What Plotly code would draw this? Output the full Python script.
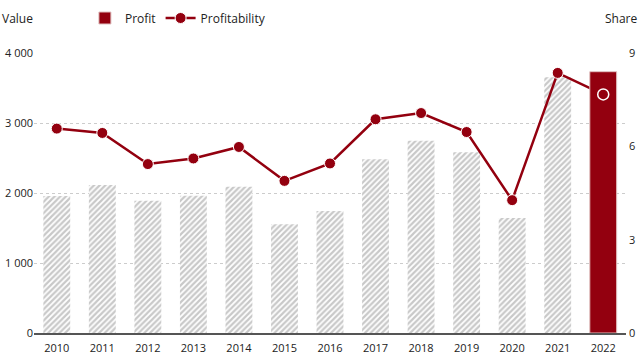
import plotly.graph_objects as go

years = [str(y) for y in range(2010, 2023)]
values_hist = [1957, 2114, 1890, 1961, 2090, 1553, 1743, 2481, 2747, 2581, 1643, 3653]
profit_2022 = [3733]
share = [6.57, 6.43, 5.43, 5.61, 5.98, 4.89, 5.45, 6.87, 7.07, 6.46, 4.27, 8.36, 7.67]

RED = "#93000f"
FONT = "Open Sans"

fig = go.Figure()

fig.add_trace(go.Bar(
    x=years[:-1], y=values_hist, showlegend=False, yaxis="y",
    marker=dict(color="white", line=dict(width=0),
                pattern=dict(shape="/", fgcolor="#929292", bgcolor="white", size=4, solidity=0.55)),
    width=0.59, hoverinfo="skip",
))
fig.add_trace(go.Bar(
    x=years[-1:], y=profit_2022, name="Profit", yaxis="y3",
    marker=dict(color=RED, line=dict(width=1, color="#e0c0c0")),
    width=0.59,
))
fig.add_trace(go.Scatter(
    x=years, y=share, name="Profitability", yaxis="y2", mode="lines+markers",
    line=dict(color=RED, width=2.5),
    marker=dict(color=RED, size=11, line=dict(color="white", width=1)),
))
fig.add_trace(go.Scatter(
    x=years[-1:], y=share[-1:], showlegend=False, yaxis="y4", mode="markers",
    marker=dict(color="rgba(0,0,0,0)", size=11, line=dict(color="white", width=1.5)),
))

fig.update_layout(
    width=640, height=362,
    margin=dict(l=34, r=14, t=53, b=29, autoexpand=False),
    paper_bgcolor="white", plot_bgcolor="white",
    font=dict(family=FONT, size=11, color="#222"),
    separators=". ",
    barmode="overlay",
    xaxis=dict(type="category", categoryorder="array", categoryarray=years,
               range=[-0.5, 12.5],
               showline=True, linecolor="#555", linewidth=1.5, ticks="",
               showgrid=False, tickfont=dict(size=11), automargin=False,
               ticklabelstandoff=4),
    yaxis=dict(range=[0, 4000], tickvals=[0, 1000, 2000, 3000, 4000], tickformat=",d",
               showgrid=True, gridcolor="#cccccc", griddash="dot", gridwidth=1,
               zeroline=False, showline=False, ticks="", automargin=False),
    yaxis2=dict(range=[0, 9], tickvals=[0, 3, 6, 9], overlaying="y", side="right",
                showgrid=False, zeroline=False, showline=False, ticks="", automargin=False,
                ticklabelstandoff=2),
    yaxis3=dict(range=[0, 4000], overlaying="y", visible=False),
    yaxis4=dict(range=[0, 9], overlaying="y", visible=False),
    legend=dict(orientation="h", x=0.086, y=1.125, xanchor="left", yanchor="middle",
                font=dict(size=12), bgcolor="rgba(0,0,0,0)"),
    annotations=[
        dict(text="Value", xref="paper", yref="paper", x=-0.0574, y=1.125,
             xanchor="left", yanchor="middle", showarrow=False, font=dict(size=12)),
        dict(text="Share", xref="paper", yref="paper", x=1.0236, y=1.125,
             xanchor="right", yanchor="middle", showarrow=False, font=dict(size=12)),
    ],
)

fig.write_html("out.html", config={"displayModeBar": False},
               post_script="document.body.style.margin='0';")
